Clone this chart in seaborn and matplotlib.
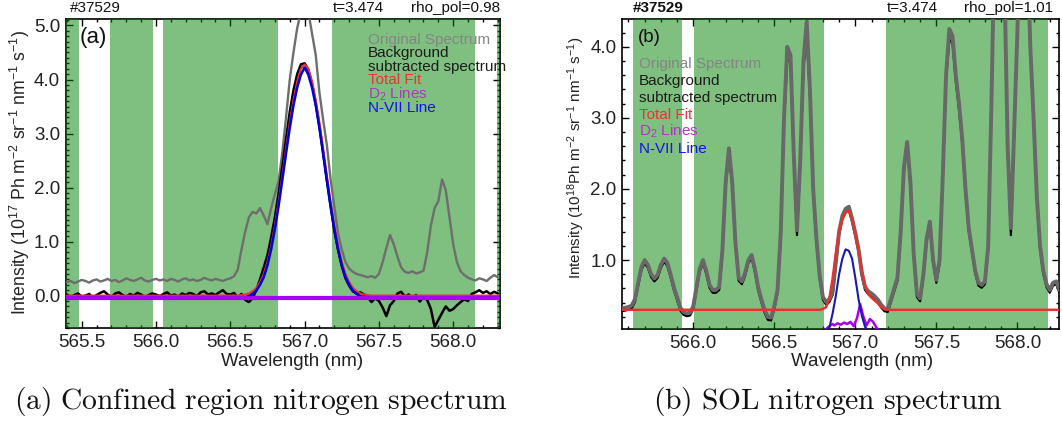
import numpy as np
import matplotlib
matplotlib.use("Agg")
import matplotlib.pyplot as plt
import seaborn as sns
from matplotlib.ticker import MultipleLocator, FormatStrFormatter

# ---------------- panel (a): confined region ----------------
wl_a = np.round(565.40 + 0.025 * np.arange(117), 3)   # spectrometer sampling grid
orig_a = [0.25, 0.27, 0.23, 0.26, 0.29, 0.27, 0.24, 0.28, 0.30, 0.26,
          0.28, 0.31, 0.27, 0.29, 0.25, 0.28, 0.32, 0.29, 0.27, 0.30,
          0.33, 0.28, 0.26, 0.29, 0.31, 0.28, 0.30, 0.27, 0.31, 0.29,
          0.26, 0.30, 0.32, 0.28, 0.30, 0.27, 0.29, 0.33, 0.30, 0.28,
          0.31, 0.29, 0.27, 0.30,
          0.32, 0.36, 0.48, 0.85, 1.18, 1.45, 1.55, 1.52, 1.62, 1.48,
          1.32, 1.62, 1.88, 2.12, 2.65, 3.30, 4.00, 4.50, 4.95, 5.25,
          5.15, 5.25, 4.85, 4.45, 3.75, 3.25, 2.78, 2.15, 1.65, 1.15,
          0.85, 0.62, 0.50, 0.44, 0.40, 0.38, 0.36, 0.34, 0.36, 0.33,
          0.40, 0.62, 0.88, 1.12, 0.95, 0.72, 0.52, 0.44, 0.42, 0.45,
          0.41, 0.43, 0.46, 0.80, 1.30, 1.62, 1.75, 2.15, 1.95, 1.45,
          0.95, 0.62, 0.45, 0.38, 0.33, 0.30, 0.28, 0.32, 0.30, 0.27,
          0.33, 0.38, 0.34]
bgsub_a = [0.02, -0.03, 0.01, 0.04, -0.02, 0.00, 0.03, -0.04, 0.01, 0.05,
           0.08, 0.02, -0.03, 0.04, 0.06, 0.01, -0.02, 0.03, 0.00, 0.05,
           0.02, -0.03, 0.01, 0.04, 0.02, -0.01, 0.03, 0.06, 0.00, 0.02,
           -0.02, 0.04, 0.01, 0.05, 0.03, -0.01, 0.06, 0.08, 0.02, 0.04,
           0.01, 0.06, 0.10, 0.03,
           0.02, 0.05, -0.04, 0.03, -0.08, -0.12, -0.05, 0.10, 0.30, 0.52,
           0.75, 1.08, 1.45, 1.90, 2.38, 2.90, 3.40, 3.80, 4.10, 4.28,
           4.30, 4.18, 3.92, 3.55, 3.12, 2.62, 2.12, 1.65, 1.20, 0.85,
           0.55, 0.32, 0.18, 0.08, 0.04, 0.06, 0.02, -0.03, -0.12, -0.05,
           -0.10, -0.22, -0.38, -0.18, -0.10, 0.04, 0.07, -0.02, 0.02, -0.05,
           0.01, -0.11, -0.03, -0.08, -0.25, -0.58, -0.45, -0.32, -0.20, -0.28,
           -0.25, -0.18, -0.12, -0.07, -0.10, 0.03, 0.06, 0.10, 0.05, 0.08,
           0.03, 0.07, 0.04]
fit_wl_a = [565.40] + list(np.round(566.50 + 0.025 * np.arange(41), 3)) + [568.30]
total_a = [0.0,
           0.00, 0.00, 0.00, 0.01, 0.02, 0.04, 0.08, 0.14, 0.25, 0.40,
           0.62, 0.92, 1.30, 1.74, 2.22, 2.72, 3.20, 3.62, 3.96, 4.20,
           4.28,
           4.20, 3.96, 3.62, 3.20, 2.72, 2.22, 1.74, 1.30, 0.92, 0.62,
           0.40, 0.25, 0.14, 0.08, 0.04, 0.02, 0.01, 0.00, 0.00, 0.00,
           0.0]
nvii_a = [-0.05,
          -0.05, -0.05, -0.05, -0.04, -0.03, -0.01, 0.03, 0.09, 0.20, 0.34,
          0.56, 0.86, 1.23, 1.66, 2.14, 2.63, 3.10, 3.52, 3.85, 4.09,
          4.22,
          4.09, 3.85, 3.52, 3.10, 2.63, 2.14, 1.66, 1.23, 0.86, 0.56,
          0.34, 0.20, 0.09, 0.03, -0.01, -0.03, -0.04, -0.05, -0.05, -0.05,
          -0.05]
d2_wl_a = [565.40, 568.30]
d2_a = [-0.05, -0.05]
bands_a = [(565.392, 565.482), (565.690, 565.978), (566.047, 566.821),
           (567.184, 568.146), (568.294, 568.315)]

# ---------------- panel (b): SOL ----------------
wl_b = np.round(565.56 + 0.02 * np.arange(136), 2)    # spectrometer sampling grid
orig_b = [0.32, 0.33, 0.34, 0.36, 0.45, 0.68, 0.90, 1.00, 0.93, 0.80,
          0.74, 0.79, 0.93, 1.02, 0.96, 0.80, 0.62, 0.48, 0.33, 0.27,
          0.25, 0.26, 0.35, 0.62, 0.88, 1.00, 0.85, 0.65, 0.58, 0.58,
          0.62, 1.15, 2.10, 2.57, 2.10, 1.25, 0.75, 0.70, 0.82, 1.00,
          1.07, 0.88, 0.62, 0.45, 0.30, 0.20, 0.19, 0.35, 0.58, 1.40,
          3.00, 4.00, 3.88, 2.50, 1.42, 2.40, 3.80, 4.35, 3.40, 2.00,
          1.30, 0.78, 0.48, 0.41, 0.45, 0.55, 0.98, 1.40, 1.62, 1.72,
          1.75, 1.58, 1.38, 1.15, 0.82, 0.62, 0.56, 0.53, 0.49, 0.44,
          0.37, 0.32, 0.31, 0.45, 0.60, 0.75, 1.40, 2.30, 2.66, 2.10,
          1.10, 0.52, 0.46, 0.80, 1.30, 1.54, 1.00, 0.72, 1.00, 2.20,
          3.60, 4.25, 4.15, 3.60, 3.20, 2.70, 2.00, 1.45, 1.15, 0.85,
          0.68, 0.65, 0.70, 1.20, 3.20, 5.60, 6.50, 6.20, 5.00, 2.60,
          1.45, 2.80, 4.20, 6.00, 7.20, 5.50, 4.00, 3.00, 1.90, 1.20,
          0.85, 0.66, 0.58, 0.68, 0.70, 0.58]
bgsub_b = [0.28, 0.29, 0.30, 0.32, 0.41, 0.64, 0.86, 0.96, 0.89, 0.76,
           0.70, 0.75, 0.89, 0.98, 0.92, 0.76, 0.58, 0.44, 0.29, 0.23,
           0.21, 0.22, 0.31, 0.58, 0.84, 0.96, 0.81, 0.61, 0.54, 0.54,
           0.58, 1.11, 2.05, 2.50, 2.05, 1.21, 0.71, 0.66, 0.78, 0.96,
           1.03, 0.84, 0.58, 0.41, 0.26, 0.16, 0.15, 0.31, 0.54, 1.36,
           2.94, 3.83, 3.78, 2.44, 1.35, 2.34, 3.72, 4.15, 3.32, 1.95,
           1.26, 0.74, 0.44, 0.37, 0.41, 0.51, 0.94, 1.36, 1.58, 1.67,
           1.70, 1.54, 1.34, 1.11, 0.78, 0.58, 0.52, 0.49, 0.45, 0.40,
           0.33, 0.28, 0.27, 0.41, 0.56, 0.71, 1.36, 2.25, 2.60, 2.05,
           1.06, 0.48, 0.42, 0.76, 1.26, 1.50, 0.96, 0.68, 0.96, 2.15,
           3.54, 4.10, 4.05, 3.52, 3.12, 2.64, 1.95, 1.41, 1.11, 0.81,
           0.64, 0.61, 0.66, 1.16, 3.15, 5.55, 6.45, 6.15, 4.95, 2.55,
           1.35, 2.75, 4.15, 5.95, 7.15, 5.45, 3.95, 2.95, 1.86, 1.16,
           0.81, 0.62, 0.54, 0.64, 0.66, 0.54]
fit_wl_b = [565.56, 566.78, 566.80, 566.82, 566.84, 566.86, 566.88, 566.90,
            566.92, 566.94, 566.96, 566.98, 567.00, 567.02, 567.04, 567.06,
            567.08, 567.10, 567.12, 567.14, 567.16, 567.18, 567.20, 568.26]
total_b = [0.30, 0.30, 0.31, 0.34, 0.46, 0.74, 1.10, 1.40,
           1.57, 1.67, 1.70, 1.59, 1.38, 1.14, 0.86, 0.64,
           0.52, 0.47, 0.43, 0.39, 0.34, 0.31, 0.30, 0.30]
nvii_wl_b = [566.80, 566.82, 566.84, 566.86, 566.88, 566.90, 566.92, 566.94,
             566.96, 566.98, 567.00, 567.02, 567.04, 567.06, 567.08, 567.10]
nvii_b = [0.00, 0.01, 0.05, 0.25, 0.50, 0.80, 1.02, 1.15,
          1.13, 1.02, 0.75, 0.45, 0.22, 0.06, 0.01, 0.00]
d2_wl_b = [566.80, 566.82, 566.84, 566.86, 566.87, 566.89, 566.91, 566.93,
           566.95, 566.97, 566.99, 567.01, 567.03, 567.05, 567.07, 567.09,
           567.11, 567.13, 567.15]
d2_b = [0.00, 0.03, 0.07, 0.10, 0.08, 0.11, 0.09, 0.12, 0.10, 0.13,
        0.07, 0.18, 0.38, 0.20, 0.08, 0.17, 0.13, 0.05, 0.00]
bands_b = [(565.630, 565.932), (566.004, 566.809), (567.190, 568.187)]

legend_entries = [("Original Spectrum", "#858585"),
                  ("Background", "#1c1c1c"),
                  ("subtracted spectrum", "#1c1c1c"),
                  ("Total Fit", "#e83434"),
                  ("D$_2$ Lines", "#b036c0"),
                  ("N-VII Line", "#1414e6")]

# ---------------- style ----------------
W, H = 1062, 428
sns.set_style("ticks")
plt.rcParams.update({
    "font.family": ["Liberation Sans", "DejaVu Sans"],
    "mathtext.fontset": "custom",
    "mathtext.rm": "Liberation Sans",
    "mathtext.it": "Liberation Sans:italic",
    "mathtext.bf": "Liberation Sans:bold",
    "axes.edgecolor": "black",
    "xtick.color": "black",
    "ytick.color": "black",
})

fig = plt.figure(figsize=(W / 100, H / 100), dpi=100)
fig.patch.set_facecolor("white")


def px_axes(l, t, r, b):
    return fig.add_axes([l / W, 1 - b / H, (r - l) / W, (b - t) / H])


def ftext(x, y, s, **kw):
    return fig.text(x / W, 1 - y / H, s, **kw)


def style_axes(ax, xlim, ylim, yminor):
    ax.set_facecolor("white")
    ax.set_xlim(*xlim)
    ax.set_ylim(*ylim)
    ax.xaxis.set_major_locator(MultipleLocator(0.5))
    ax.xaxis.set_minor_locator(MultipleLocator(0.1))
    ax.yaxis.set_major_locator(MultipleLocator(1.0))
    ax.yaxis.set_minor_locator(MultipleLocator(yminor))
    ax.xaxis.set_major_formatter(FormatStrFormatter("%.1f"))
    ax.yaxis.set_major_formatter(FormatStrFormatter("%.1f"))
    ax.tick_params(which="both", direction="in", top=True, right=True,
                   labelsize=13.5, width=1.0, color="black", labelcolor="#222222")
    ax.tick_params(which="major", length=5)
    ax.tick_params(which="minor", length=2.5)
    ax.tick_params(axis="x", pad=4)
    ax.tick_params(axis="y", pad=4)
    ax.set_axisbelow(True)
    for s in ax.spines.values():
        s.set_visible(True)
        s.set_linewidth(1.2)
        s.set_zorder(0.8)
    ax.set_xlabel("")
    ax.set_ylabel("")


def line(ax, x, y, color, lw):
    sns.lineplot(x=list(x), y=list(y), ax=ax, color=color, linewidth=lw,
                 estimator=None, sort=False, legend=False)


# ---------------- panel (a) ----------------
ax_a = px_axes(65.7, 19, 500, 328)
for lo, hi in bands_a:
    ax_a.axvspan(lo, hi, color=(0, 0.5, 0), alpha=0.5, lw=0, zorder=1)
line(ax_a, wl_a, orig_a, "#6e6e6e", 1.7)
line(ax_a, wl_a, bgsub_a, "black", 1.8)
line(ax_a, fit_wl_a, total_a, "#e8302e", 1.5)
line(ax_a, fit_wl_a, nvii_a, "#0000dd", 1.8)
line(ax_a, d2_wl_a, d2_a, "#a800f0", 3.0)
style_axes(ax_a, (565.392, 568.315), (-0.60, 5.12), 0.1)

# ---------------- panel (b) ----------------
ax_b = px_axes(622.3, 19, 1059, 329)
for lo, hi in bands_b:
    ax_b.axvspan(lo, hi, color=(0, 0.5, 0), alpha=0.5, lw=0, zorder=1)
line(ax_b, wl_b, bgsub_b, "black", 1.6)
line(ax_b, wl_b, orig_b, "#686868", 2.8)
line(ax_b, fit_wl_b, total_b, "#e8302e", 1.8)
line(ax_b, d2_wl_b, d2_b, "#a800f0", 1.8)
line(ax_b, nvii_wl_b, nvii_b, "#1a1aa8", 1.5)
style_axes(ax_b, (565.562, 568.257), (0.03, 4.39), 0.2)

# ---------------- texts ----------------
hdr = dict(fontsize=11, va="center", color="#111111")
ftext(70, 8, "#37529", ha="left", **hdr)
ftext(333, 8, "t=3.474", ha="left", **hdr)
ftext(500, 8, "rho_pol=0.98", ha="right", **hdr)
ftext(633, 8, "#37529", ha="left", fontweight="bold", **hdr)
ftext(887, 8, "t=3.474", ha="left", **hdr)
ftext(1053, 8, "rho_pol=1.01", ha="right", **hdr)

ftext(80, 38, "(a)", ha="left", va="center", fontsize=16, color="#111111")
ftext(638, 38, "(b)", ha="left", va="center", fontsize=13.5, color="#111111")

for (txt, col), yb in zip(legend_entries, [44, 57.5, 70.5, 84, 99, 112.5]):
    ftext(368, yb, txt, ha="left", va="baseline", fontsize=11, color=col)
for (txt, col), yb in zip(legend_entries, [68, 85, 102, 119, 136, 153]):
    ftext(639, yb, txt, ha="left", va="baseline", fontsize=11, color=col)

ftext(292, 361, "Wavelength (nm)", ha="center", va="center", fontsize=13.5, color="#222222")
ftext(862, 361, "Wavelength (nm)", ha="center", va="center", fontsize=13.5, color="#222222")

ftext(20, 172.5, r"Intensity (10$^{17}$ Ph m$^{-2}$ sr$^{-1}$ nm$^{-1}$ s$^{-1}$)",
      rotation=90, ha="center", va="center", fontsize=12.7, color="#222222")
ftext(576, 158, r"Intensity (10$^{18}$Ph m$^{-2}$ sr$^{-1}$ nm$^{-1}$ s$^{-1}$)",
      rotation=90, ha="center", va="center", fontsize=11, color="#222222")

ftext(14, 402, r"$\mathrm{(a)\ Confined\ region\ nitrogen\ spectrum}$",
      ha="left", va="center", fontsize=21.3, math_fontfamily="cm", color="#111111")
ftext(653, 402, r"$\mathrm{(b)\ SOL\ nitrogen\ spectrum}$",
      ha="left", va="center", fontsize=21.3, math_fontfamily="cm", color="#111111")

fig.savefig("out.png", dpi=100, facecolor="white")
